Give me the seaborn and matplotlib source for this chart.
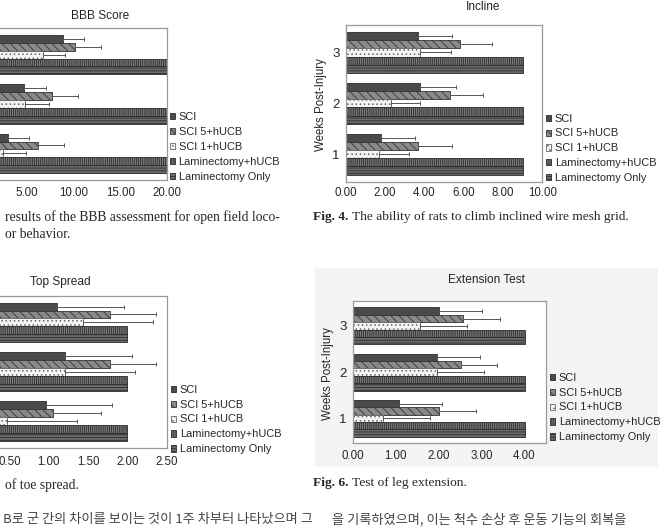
import numpy as np
import pandas as pd
import matplotlib
matplotlib.use("Agg")
import matplotlib.pyplot as plt
import seaborn as sns
from matplotlib.patches import Rectangle

# Data (weeks 1, 2, 3 in each row)
weeks = ['1', '2', '3']
week_order = ['3', '2', '1']
groups = ['SCI', 'SCI 5+hUCB', 'SCI 1+hUCB', 'Laminectomy+hUCB', 'Laminectomy Only']

bbb_mean = [[2.9, 4.7, 8.8], [6.2, 7.7, 10.1], [2.4, 4.8, 6.7], [21, 21, 21], [21, 21, 21]]
bbb_err = [[2.3, 2.3, 2.3], [2.8, 2.8, 2.8], [2.5, 2.5, 2.4], [0, 0, 0], [0, 0, 0]]

incline_mean = [[1.8, 3.8, 3.7], [3.7, 5.3, 5.8], [1.7, 2.3, 3.8], [9.0, 9.0, 9.0], [9.0, 9.0, 9.0]]
incline_err = [[1.7, 1.8, 1.7], [1.7, 1.7, 1.65], [1.5, 1.5, 1.55], [0, 0, 0], [0, 0, 0]]

spread_mean = [[0.97, 1.21, 1.11], [1.06, 1.78, 1.78], [0.47, 1.21, 1.43], [2.0, 2.0, 2.0], [2.0, 2.0, 2.0]]
spread_err = [[0.84, 0.85, 0.85], [0.60, 0.59, 0.59], [0.89, 0.89, 0.90], [0, 0, 0], [0, 0, 0]]

ext_mean = [[1.07, 1.97, 2.0], [2.0, 2.51, 2.56], [0.70, 1.97, 1.56], [4.0, 4.0, 4.0], [4.0, 4.0, 4.0]]
ext_err = [[1.0, 1.0, 1.0], [0.86, 0.85, 0.86], [1.11, 1.08, 1.1], [0, 0, 0], [0, 0, 0]]

W, H = 660, 527

sns.set_style('white')
plt.rcParams['font.family'] = ['Liberation Sans', 'DejaVu Sans']
plt.rcParams['hatch.linewidth'] = 0.6

fig = plt.figure(figsize=(6.6, 5.27), dpi=100)

# light grey chart area behind the extension test
fig.patches.append(Rectangle((315 / W, 1 - 467 / H), (658 - 315) / W, (467 - 268) / H,
                             transform=fig.transFigure, facecolor='#f4f4f4',
                             edgecolor='none', zorder=-1))

bar_face = ['#4a4a4a', '#8a8a8a', '#f4f4f4', '#7a7a7a', '#6c6c6c']
bar_edge = ['#2b2b2b', '#333333', '#666666', '#2b2b2b', '#2b2b2b']
bar_hatch = ['', '\\\\\\\\', '....', '||||||||', '------']


def add_chart(box, means, errs, xmax, ticks, legend_xy, ylab_xy, tick_pad, show_y=True):
    x0, x1, y0, y1 = box
    ax = fig.add_axes([x0 / W, 1 - y1 / H, (x1 - x0) / W, (y1 - y0) / H])
    rows = []
    for gi, g in enumerate(groups):
        for wi, w in enumerate(weeks):
            rows.append({'week': w, 'group': g, 'value': means[gi][wi]})
    df = pd.DataFrame(rows)
    sns.barplot(data=df, x='value', y='week', hue='group', order=week_order,
                hue_order=groups, orient='h', errorbar=None, width=0.8,
                palette=bar_face, saturation=1, legend=False, ax=ax)
    bar_conts = list(ax.containers)
    for gi, cont in enumerate(bar_conts):
        for bar in cont:
            bar.set_hatch(bar_hatch[gi])
            bar.set_edgecolor(bar_edge[gi])
            bar.set_linewidth(0.6)
            yc = bar.get_y() + bar.get_height() / 2
            wi = weeks.index(week_order[int(round(yc))])
            e = errs[gi][wi]
            if e > 0:
                ax.errorbar(means[gi][wi], yc, xerr=[[0], [e]], fmt='none',
                            ecolor='#555555', elinewidth=0.7, capsize=1.6,
                            capthick=0.7, zorder=5)
    ax.set_xlim(0, xmax)
    ax.set_xticks(ticks)
    ax.set_xticklabels([f'{t:.2f}' for t in ticks], fontsize=8.3)
    ax.set_xlabel('')
    if show_y:
        ax.set_ylabel('Weeks Post-Injury', fontsize=8.3)
        ax.yaxis.label.set_va('center')
        ax.yaxis.set_label_coords((ylab_xy[0] - x0) / (x1 - x0), (y1 - ylab_xy[1]) / (y1 - y0))
    else:
        ax.set_ylabel('')
        ax.set_yticklabels([])
    ax.tick_params(axis='y', labelsize=9.5, length=0, pad=4.5)
    ax.tick_params(axis='x', length=0, pad=tick_pad)
    for s in ax.spines.values():
        s.set_color('#9a9a9a')
        s.set_linewidth(0.9)
    ax.legend(bar_conts, groups, loc='center left',
              bbox_to_anchor=(legend_xy[0] / W, 1 - legend_xy[1] / H),
              bbox_transform=fig.transFigure, frameon=False, fontsize=7.9,
              handlelength=0.48, handleheight=0.48, handletextpad=0.35,
              labelspacing=0.45, borderpad=0, borderaxespad=0)
    return ax


add_chart((-19.3, 166.7, 28, 180), bbb_mean, bbb_err, 20, [5, 10, 15, 20],
          (169.5, 147), None, 5, show_y=False)
add_chart((345.7, 542.3, 25, 181.7), incline_mean, incline_err, 10, [0, 2, 4, 6, 8, 10],
          (545.8, 148.4), (320.7, 105), 4)
add_chart((-30, 166.7, 295.7, 447.7), spread_mean, spread_err, 2.5, [0.5, 1, 1.5, 2, 2.5],
          (170.8, 419.5), None, 6, show_y=False)
add_chart((352.7, 546, 301, 443.3), ext_mean, ext_err, 4.5, [0, 1, 2, 3, 4],
          (549.8, 407.5), (328.3, 373.3), 5)

# chart titles
for txt, x, y in [('BBB Score', 100, 16), ('Incline', 482.7, 7),
                  ('Top Spread', 60, 281.7), ('Extension Test', 486.7, 280)]:
    fig.text(x / W, 1 - y / H, txt, ha='center', va='center', fontsize=8.6)

# captions
serif = ['Liberation Serif', 'DejaVu Serif']
fig.text(5 / W, 1 - 217 / H, 'results of the BBB assessment for open field loco-',
         va='center', family=serif, fontsize=9.8)
fig.text(5 / W, 1 - 235 / H, 'or behavior.', va='center', family=serif, fontsize=9.8)
fig.text(5 / W, 1 - 485 / H, 'of toe spread.', va='center', family=serif, fontsize=9.8)

renderer = fig.canvas.get_renderer()
for bold, rest, x, y in [('Fig. 4.', ' The ability of rats to climb inclined wire mesh grid.', 313.3, 216.7),
                         ('Fig. 6.', ' Test of leg extension.', 313.3, 482.7)]:
    t = fig.text(x / W, 1 - y / H, bold, va='center', family=serif, fontsize=9.6, fontweight='bold')
    bb = t.get_window_extent(renderer)
    fig.text(bb.x1 / W, 1 - y / H, rest, va='center', family=serif, fontsize=9.6)

kr = ['Noto Sans CJK KR', 'DejaVu Sans']
fig.text(3 / W, 1 - 513 / H, 'B로 군 간의 차이를 보이는 것이 1주 차부터 나타났으며 그', va='top',
         family=kr, fontsize=9.5, color='#444444')
fig.text(332 / W, 1 - 513 / H, '을 기록하였으며, 이는 척수 손상 후 운동 기능의 회복을', va='top',
         family=kr, fontsize=9.5, color='#444444')

fig.savefig('out.png', dpi=100)
